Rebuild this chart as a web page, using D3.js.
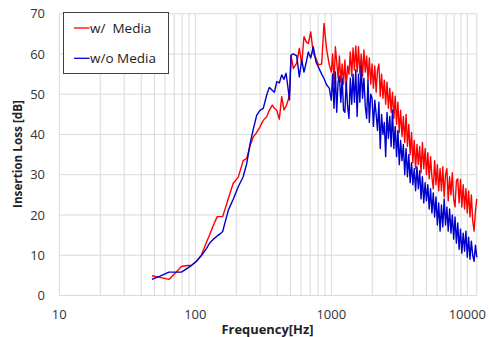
<!DOCTYPE html>
<html>
<head>
<meta charset="utf-8">
<script src="https://cdn.jsdelivr.net/npm/d3@7"></script>
<style>
  body { margin: 0; background: #fff; }
  text { font-family: "Open Sans", sans-serif; }
</style>
</head>
<body>
<script>

// ---------- Data

// frequency points [Hz]
var freqs = [48, 55, 64, 71, 79, 85, 94, 102, 111, 120,
             128, 136, 145, 152, 159, 175, 190, 207, 225, 239,
             253, 267, 283, 299, 316, 335, 350, 368, 382, 397,
             415, 432, 449, 465, 483, 493, 506, 526, 557, 582,
             606, 630, 655, 678, 706, 737, 772, 803, 850, 884,
             925, 967,
             1000, 1023, 1047, 1072, 1096, 1122, 1148, 1175, 1202, 1230,
             1259, 1288, 1318, 1349, 1380, 1413, 1445, 1479, 1514, 1549,
             1585, 1622, 1660, 1698, 1738, 1778, 1820, 1862, 1905, 1950,
             1995, 2042, 2089, 2138, 2188, 2239, 2291, 2344, 2399, 2455,
             2512, 2570, 2630, 2692, 2754, 2818, 2884, 2951, 3020, 3090,
             3162, 3236, 3311, 3388, 3467, 3548, 3631, 3715, 3802, 3890,
             3981, 4074, 4169, 4266, 4365, 4467, 4571, 4677, 4786, 4898,
             5012, 5129, 5248, 5370, 5495, 5623, 5754, 5888, 6026, 6166,
             6310, 6457, 6607, 6761, 6918, 7079, 7244, 7413, 7586, 7762,
             7943, 8128, 8318, 8511, 8710, 8913, 9120, 9333, 9550, 9772,
             10000, 10233, 10471, 10715, 10965, 11220, 11482, 11749];

// insertion loss with media [dB]
var withMedia = [4.9, 4.5, 4.0, 5.5, 7.2, 7.4, 7.5, 8.5, 10.1, 13.0,
                 15.2, 17.5, 19.6, 19.6, 19.6, 24.1, 27.9, 29.4, 33.5, 34.1,
                 37.2, 39.4, 40.5, 41.9, 43.5, 44.4, 46.0, 47.3, 46.5, 46.0,
                 43.8, 49.4, 46.1, 47.0, 48.6, 50.5, 59.5, 56.4, 57.7, 61.4,
                 57.5, 64.3, 63.0, 62.6, 65.5, 60.2, 58.9, 57.3, 57.5, 67.6,
                 61.0, 57.3,
                 55.5, 60.0, 52.5, 61.8, 58.0, 54.0, 59.5, 53.0, 57.5, 52.5,
                 58.5, 51.5, 57.0, 55.0, 60.5, 54.5, 61.5, 56.0, 62.0, 55.5,
                 61.8, 55.0, 60.0, 54.5, 61.0, 55.5, 59.5, 53.5, 59.0, 52.5,
                 57.5, 51.5, 57.0, 50.5, 56.0, 57.5, 49.5, 55.0, 49.0, 53.5,
                 47.5, 53.0, 46.5, 51.5, 45.5, 50.5, 44.0, 49.5, 42.5, 48.0,
                 40.5, 46.0, 39.5, 44.5, 38.0, 45.0, 37.0, 42.5, 35.0, 40.5,
                 33.0, 38.5, 31.5, 37.5, 32.5, 37.0, 30.5, 38.0, 31.5, 36.5,
                 30.0, 35.5, 29.0, 34.5, 29.5, 26.5, 33.5, 27.5, 32.5, 26.0,
                 31.5, 26.0, 32.0, 24.5, 30.0, 31.5, 23.5, 29.5, 25.0, 30.5,
                 24.0, 22.0, 28.5, 29.0, 23.0, 28.8, 22.0, 27.5, 21.5, 26.5,
                 20.5, 26.0, 19.5, 25.0, 18.5, 16.0, 21.0, 24.0];

// insertion loss without media [dB]
var withoutMedia = [4.0, 4.8, 5.8, 5.8, 5.8, 6.5, 7.5, 8.5, 9.9, 11.5,
                    13.1, 14.0, 14.8, 15.3, 15.9, 21.2, 23.9, 27.0, 29.5, 32.8,
                    37.8, 41.3, 44.8, 46.0, 46.5, 49.8, 51.7, 51.0, 50.5, 53.1,
                    52.8, 54.8, 53.7, 55.2, 51.0, 48.6, 59.7, 60.0, 59.5, 54.3,
                    58.5, 55.5, 58.0, 60.5, 59.0, 61.8, 58.0, 56.8, 55.0, 53.9,
                    52.3, 51.5,
                    48.5, 55.0, 46.5, 55.5, 45.5, 53.0, 54.5, 48.0, 54.0, 46.0,
                    45.5, 53.0, 47.0, 44.0, 54.0, 47.5, 55.0, 48.0, 56.0, 44.5,
                    55.0, 48.0, 57.0, 49.0, 54.0, 47.0, 44.0, 53.5, 43.0, 50.0,
                    49.0, 42.0, 48.5, 45.0, 41.0, 48.0, 36.5, 45.0, 40.0, 43.0,
                    34.5, 45.5, 39.0, 44.5, 37.0, 46.0, 36.5, 42.0, 34.5, 41.0,
                    32.5, 38.5, 33.5, 37.5, 30.0, 36.5, 29.5, 35.0, 28.0, 33.0,
                    27.5, 31.5, 26.0, 32.0, 26.5, 31.0, 24.0, 29.5, 23.0, 28.0,
                    23.5, 27.5, 21.5, 26.5, 20.5, 25.5, 19.5, 24.5, 17.5, 23.0,
                    16.0, 22.5, 17.0, 24.0, 17.5, 22.0, 16.0, 21.5, 15.5, 20.0,
                    14.0, 19.5, 13.0, 18.0, 11.5, 16.5, 10.5, 15.5, 11.0, 16.0,
                    9.5, 14.5, 9.0, 13.5, 10.0, 8.5, 12.5, 9.5];

var seriesNames = ["w/  Media", "w/o Media"];
var seriesColors = ["#ff0000", "#0000cc"];

var yTicks = [0, 10, 20, 30, 40, 50, 60, 70];
var xLabels = [10, 100, 1000, 10000];

// ---------- Size
var w = 489;
var h = 337;
var plotL = 59.3, plotR = 476.8, plotT = 13.7, plotB = 295.5;

// ---------- Scales
var xScale = d3.scaleLog()
               .domain([10, 11750])
               .range([plotL, plotR]);

var yScale = d3.scaleLinear()
               .domain([0, 70])
               .range([plotB, plotT]);

// ---------- SVG
var svg = d3.select("body")
            .append("svg")
            .attr("width", w)
            .attr("height", h);

// vertical grid (log minor + major)
var xGrid = xScale.ticks().filter(function(d) { return d <= 10000; });

svg.append("g")
   .selectAll("line")
   .data(xGrid)
   .enter()
   .append("line")
   .attr("x1", function(d) { return xScale(d); })
   .attr("x2", function(d) { return xScale(d); })
   .attr("y1", plotT)
   .attr("y2", plotB)
   .attr("stroke", "#d9d9d9")
   .attr("stroke-width", 1);

// horizontal grid
svg.append("g")
   .selectAll("line")
   .data(yTicks)
   .enter()
   .append("line")
   .attr("x1", plotL)
   .attr("x2", plotR)
   .attr("y1", function(d) { return yScale(d); })
   .attr("y2", function(d) { return yScale(d); })
   .attr("stroke", "#d9d9d9")
   .attr("stroke-width", 1);

// right edge of plot area
svg.append("line")
   .attr("x1", plotR).attr("x2", plotR)
   .attr("y1", plotT).attr("y2", plotB)
   .attr("stroke", "#d9d9d9");

// ---------- Lines
var series = [withMedia, withoutMedia];

var line = d3.line()
             .x(function(d, i) { return xScale(freqs[i]); })
             .y(function(d) { return yScale(d); });

svg.append("g")
   .selectAll("path")
   .data(series)
   .enter()
   .append("path")
   .attr("d", line)
   .attr("fill", "none")
   .attr("stroke", function(d, i) { return seriesColors[i]; })
   .attr("stroke-width", 1.4)
   .attr("stroke-linejoin", "round");

// ---------- Axis labels
svg.append("g")
   .selectAll("text")
   .data(yTicks)
   .enter()
   .append("text")
   .text(function(d) { return d; })
   .attr("x", 45)
   .attr("y", function(d) { return yScale(d) + 4.6; })
   .attr("text-anchor", "end")
   .attr("font-size", "13px")
   .attr("fill", "#333");

svg.append("g")
   .selectAll("text")
   .data(xLabels)
   .enter()
   .append("text")
   .text(function(d) { return d; })
   .attr("x", function(d) { return xScale(d); })
   .attr("y", 318.5)
   .attr("text-anchor", "middle")
   .attr("font-size", "13px")
   .attr("fill", "#333");

svg.append("text")
   .text("Frequency[Hz]")
   .attr("x", 267.5)
   .attr("y", 334)
   .attr("text-anchor", "middle")
   .attr("font-size", "12.5px")
   .attr("font-weight", "bold")
   .attr("textLength", 92)
   .attr("lengthAdjust", "spacingAndGlyphs")
   .attr("fill", "#222");

svg.append("text")
   .text("Insertion Loss [dB]")
   .attr("transform", "translate(22,154) rotate(-90)")
   .attr("text-anchor", "middle")
   .attr("font-size", "12.5px")
   .attr("font-weight", "bold")
   .attr("textLength", 108)
   .attr("lengthAdjust", "spacingAndGlyphs")
   .attr("fill", "#222");

// ---------- Legend
var legend = svg.append("g");

legend.append("rect")
      .attr("x", 63.5)
      .attr("y", 12.5)
      .attr("width", 105)
      .attr("height", 61)
      .attr("fill", "#fff")
      .attr("stroke", "#404040")
      .attr("stroke-width", 1);

var legendY = [28, 58.3];

legend.selectAll("line")
      .data(seriesNames)
      .enter()
      .append("line")
      .attr("x1", 74)
      .attr("x2", 89.5)
      .attr("y1", function(d, i) { return legendY[i]; })
      .attr("y2", function(d, i) { return legendY[i]; })
      .attr("stroke", function(d, i) { return seriesColors[i]; })
      .attr("stroke-width", 1.3);

legend.selectAll("text")
      .data(seriesNames)
      .enter()
      .append("text")
      .text(function(d) { return d; })
      .attr("x", 90)
      .attr("y", function(d, i) { return legendY[i] + 4.7; })
      .attr("font-size", "13.5px")
      .attr("fill", "#222")
      .style("white-space", "pre");

</script>
</body>
</html>
